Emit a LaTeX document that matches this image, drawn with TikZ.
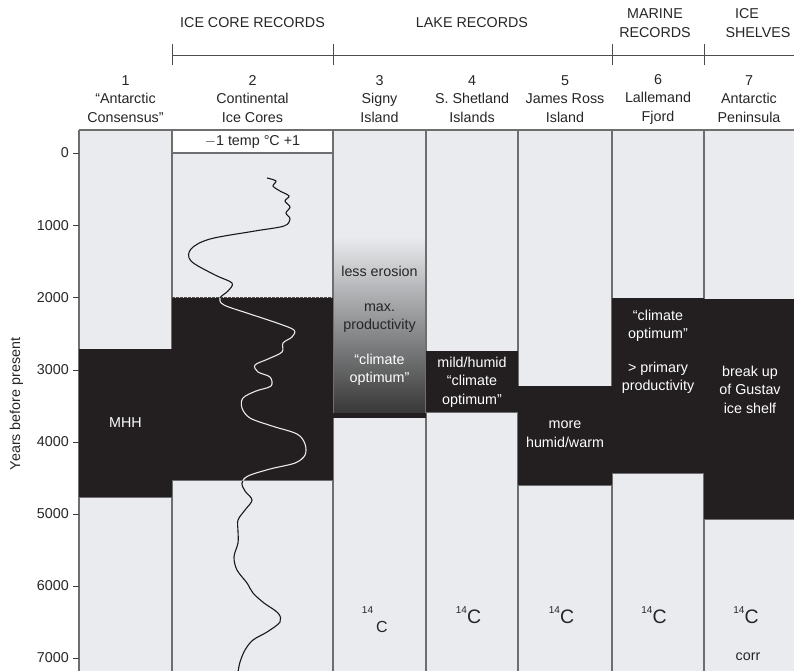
\documentclass[tikz,border=0pt]{standalone}
\usepackage{fontspec}
\setmainfont{Liberation Sans}
\definecolor{lightfill}{HTML}{E9EBEE}
\definecolor{darkfill}{HTML}{231F20}
\definecolor{bordergray}{HTML}{6E6E6E}
\definecolor{txtgray}{HTML}{262626}
\newcommand{\fs}{\fontsize{14.3}{18.5}\selectfont}
\newcommand{\cfourteen}{\raisebox{10pt}{\fontsize{10}{10}\selectfont 14}{\fontsize{19.5}{20}\selectfont C}}
\begin{document}
\begin{tikzpicture}[x=1pt,y=-1pt,
  txt/.style={font=\fs, align=center, inner sep=0pt, text=txtgray},
  wtxt/.style={txt, text=white},
  colline/.style={draw=bordergray, line width=1.1pt},
  tickline/.style={draw=black!75, line width=0.9pt},
  bracketline/.style={draw=black!70, line width=0.9pt},
  darkblock/.style={fill=darkfill},
  curveblack/.style={draw=black!90, line width=1.1pt},
  curvewhite/.style={draw=white!92!black, line width=1.1pt}]
\clip (0,0) rectangle (794,670);
\fill[white] (0,0) rectangle (794,670);

% light column fills
\fill[lightfill] (79,130) rectangle (795,672);
\fill[white] (172,130) rectangle (333,153);

% gradient in column 3
\shade[top color=lightfill, middle color=black!33, bottom color=black!78] (333,236) rectangle (426,413);

% borders
\draw[colline] (79,130) -- (795,130);
\draw[colline] (172,153) -- (333,153);
\foreach \xx in {79,172,333,426,518,612,704} \draw[colline] (\xx,130) -- (\xx,672);

% dark blocks
\fill[darkblock] (79,349) rectangle (172,497);
\fill[darkblock] (172,297) rectangle (333,480);
\fill[darkblock] (333,413) rectangle (426,417.5);
\fill[darkblock] (426,351) rectangle (518,412);
\fill[darkblock] (518,386) rectangle (612,485);
\fill[darkblock] (612,298) rectangle (704,473);
\fill[darkblock] (704,299) rectangle (795,519);
\draw[bordergray, line width=0.6pt] (79,497.5) -- (172,497.5) (172,480.5) -- (333,480.5) (426,412.5) -- (518,412.5) (518,485.5) -- (612,485.5) (612,473.5) -- (704,473.5) (704,519.5) -- (795,519.5);
% dashed upper limit of column 2 block
\draw[white!85!black, line width=1pt] (172,297.5) -- (333,297.5);
\draw[black!70, line width=1pt, dash pattern=on 2.5pt off 1.5pt] (172,297.5) -- (333,297.5);

% temperature curve
\def\tempcurve{plot[smooth, tension=0.55] coordinates {(267,178) (276,181) (273,186) (280,191) (289,196) (285,201) (290,207) (286,213) (290,219) (284,226) (255,231) (210,239) (191,249) (191,261) (215,275) (232,283) (228,291) (220,298) (224,305) (250,314) (277,323) (294,330) (292,337) (283,343) (282,352) (268,359) (255,365) (258,372) (270,377) (271,386) (256,391) (243,398) (242,408) (250,418) (272,426) (297,434) (305,444) (305,455) (295,463) (270,469) (248,476) (242,483) (245,491) (252,500) (245,510) (238,520) (238,531) (238,543) (234,557) (237,570) (247,583) (253,593) (264,603) (278,613) (280,622) (267,632) (253,640) (245,650) (240,662) (238,672)}}
\draw[curveblack] \tempcurve;
\begin{scope}
\clip (172,298) rectangle (333,480);
\draw[curvewhite] \tempcurve;
\end{scope}

% axis ticks and labels
\foreach \v/\yy in {0/153,1000/225.5,2000/297.5,3000/370,4000/442,5000/514,6000/586,7000/658} {
  \draw[tickline] (73,\yy) -- (79,\yy);
  \node[txt, anchor=east] (tick\v) at (69,\yy) {\v};
}
\node[txt, rotate=90] (ylabel) at (16.5,404) {Years before present};

% top bracket
\coordinate (bL) at (172,55);
\coordinate (bR) at (795,55);
\draw[bracketline] (bL) -- (bR);
\foreach \xx in {172,333,612,704} \draw[bracketline] (\xx,44) -- (\xx,65);
\node[txt] (grpice) at (252.5,23) {ICE CORE RECORDS};
\node[txt] (grplake) at (472,23) {LAKE RECORDS};
\node[txt] (grpmarine) at (655,23) {MARINE\\RECORDS};
\node[txt] (grpshelfA) at (747,13.5) {ICE};
\node[txt] (grpshelfB) at (758,32.5) {SHELVES};

% column headers
\node[txt] (h1) at (125.5,99) {1\\“Antarctic\\Consensus”};
\node[txt] (h2) at (252.5,99) {2\\Continental\\Ice Cores};
\node[txt] (h3) at (379.5,99) {3\\Signy\\Island};
\node[txt] (h4) at (472,99) {4\\S. Shetland\\Islands};
\node[txt] (h5) at (565,99) {5\\James Ross\\Island};
\node[txt] (h6) at (658,99) {6\\Lallemand\\Fjord};
\node[txt] (h7) at (749,99) {7\\Antarctic\\Peninsula};
\node[txt] (tempscale) at (252.5,141.5) {\(-\)1 temp \textdegree C +1};

% block texts
\node[wtxt] (mhh) at (125.5,423) {MHH};
\node[txt] (erosion) at (379.5,271) {less erosion};
\node[txt] (maxprod) at (379.5,318) {max.\\productivity};
\node[wtxt] (optim3) at (379.5,370) {“climate\\optimum”};
\node[wtxt] (mild) at (472,382) {mild/humid\\“climate\\optimum”};
\node[wtxt] (humid) at (565,434) {more\\humid/warm};
\node[wtxt] (optim6) at (658,326) {“climate\\optimum”};
\node[wtxt] (prim) at (658,378) {> primary\\productivity};
\node[wtxt] (gustav) at (750,389.5) {break up\\of Gustav\\ice shelf};

% dating labels
\node[txt, anchor=base, font=\fontsize{10}{10}\selectfont] (c3a) at (367.5,613.3) {14};
\node[txt, anchor=base, font=\fontsize{16}{16}\selectfont] (c3b) at (382,632.3) {C};
\node[txt, anchor=base] (c4) at (468.5,623.3) {\cfourteen};
\node[txt, anchor=base] (c5) at (561.5,623.3) {\cfourteen};
\node[txt, anchor=base] (c6) at (654,623.3) {\cfourteen};
\node[txt, anchor=base] (c7) at (746,623.3) {\cfourteen};
\node[txt] (corr) at (748,657) {corr};
\end{tikzpicture}
\end{document}
